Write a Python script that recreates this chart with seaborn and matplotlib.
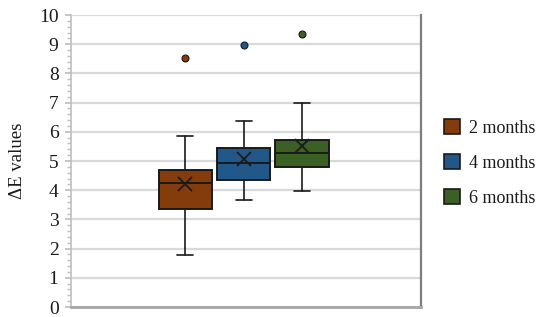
import numpy as np
import seaborn as sns
import matplotlib.pyplot as plt
from matplotlib.patches import Patch

### Data (box summaries per storage period).
groups = ['2 months', '4 months', '6 months']
whislo = [1.78, 3.68, 3.96]
q1 = [3.36, 4.35, 4.80]
med = [4.25, 4.92, 5.27]
q3 = [4.69, 5.45, 5.72]
whishi = [5.86, 6.37, 6.99]
means = [4.22, 5.07, 5.52]
fliers = [[8.52], [8.97], [9.34]]
colors = ['#843C0C', '#22578A', '#3A6024']

### Style.
sns.set_theme(style='white')
plt.rcParams['font.family'] = ['Liberation Serif', 'DejaVu Serif']

fig = plt.figure(figsize=(5.5, 3.17), dpi=100)
ax = fig.add_axes([71/550, 1-307/317, 350/550, 292/317])

stats = []
for i, g in enumerate(groups):
    stats.append(dict(label=g, whislo=whislo[i], q1=q1[i], med=med[i], q3=q3[i],
                      whishi=whishi[i], mean=means[i], fliers=fliers[i]))

pos = [1, 2, 3]
bp = ax.bxp(stats, positions=pos, widths=0.91, patch_artist=True, showmeans=True,
            capwidths=0.27,
            boxprops=dict(edgecolor='#1a1a1a', linewidth=1.4),
            medianprops=dict(color='#1a1a1a', linewidth=1.4),
            whiskerprops=dict(color='#1a1a1a', linewidth=1.2),
            capprops=dict(color='#1a1a1a', linewidth=1.2),
            meanprops=dict(marker='x', markeredgecolor='#1a1a1a', markersize=10,
                           markeredgewidth=1.3))
for patch, c in zip(bp['boxes'], colors):
    patch.set_facecolor(c)
for fl, c in zip(bp['fliers'], colors):
    fl.set(marker='o', markerfacecolor=c, markeredgecolor='#1a1a1a',
           markersize=5, markeredgewidth=0.8)

ax.set_xlim(-0.96, 5.04)
ax.set_ylim(0, 10)
ax.set_yticks(np.arange(0, 11, 1))
ax.set_yticks(np.arange(0, 10.01, 0.2), minor=True)
ax.set_xticks([])
ax.yaxis.grid(True, which='major', color='#d9d9d9', linewidth=1.6)
ax.set_axisbelow(True)
ax.tick_params(axis='y', which='major', left=True, length=4, color='#bfbfbf',
               labelsize=14, pad=5, labelcolor='#1a1a1a')
ax.tick_params(axis='y', which='minor', left=True, length=3, color='#bfbfbf')

ax.spines['top'].set_visible(False)
ax.spines['left'].set_color('#bfbfbf')
ax.spines['left'].set_linewidth(1.2)
ax.spines['bottom'].set_color('#a6a6a6')
ax.spines['bottom'].set_linewidth(2)
ax.spines['right'].set_color('#7f7f7f')
ax.spines['right'].set_linewidth(1.6)

ax.set_ylabel('ΔE values', fontsize=13.5, color='#1a1a1a', labelpad=9)

handles = [Patch(facecolor=c, edgecolor='#1a1a1a', linewidth=1.2) for c in colors]
fig.legend(handles, groups, loc='center left', bbox_to_anchor=(444/550, 1-163/317),
           frameon=False, fontsize=13, handlelength=0.9, handleheight=0.9,
           handletextpad=0.5, labelspacing=0.95, borderpad=0, borderaxespad=0,
           labelcolor='#1a1a1a')

plt.savefig('out.png', dpi=100)
